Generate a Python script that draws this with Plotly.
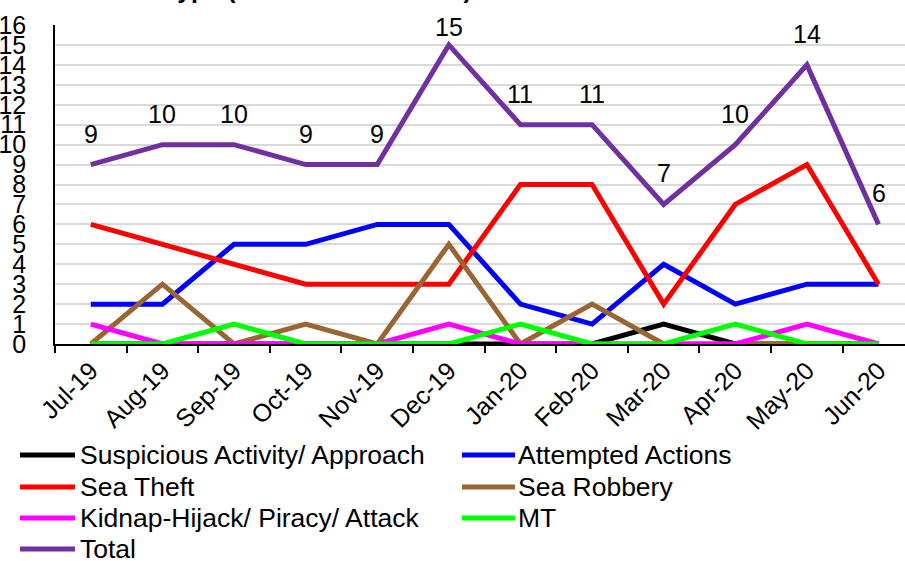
import plotly.graph_objects as go

months = ["Jul-19", "Aug-19", "Sep-19", "Oct-19", "Nov-19", "Dec-19",
          "Jan-20", "Feb-20", "Mar-20", "Apr-20", "May-20", "Jun-20"]
suspicious = [0, 0, 0, 0, 0, 0, 0, 0, 1, 0, 0, 0]
attempted = [2, 2, 5, 5, 6, 6, 2, 1, 4, 2, 3, 3]
sea_theft = [6, 5, 4, 3, 3, 3, 8, 8, 2, 7, 9, 3]
sea_robbery = [0, 3, 0, 1, 0, 5, 0, 2, 0, 0, 0, 0]
kidnap = [1, 0, 0, 0, 0, 1, 0, 0, 0, 0, 1, 0]
mt = [0, 0, 1, 0, 0, 0, 1, 0, 0, 1, 0, 0]
total = [9, 10, 10, 9, 9, 15, 11, 11, 7, 10, 14, 6]
y_ticks = list(range(0, 17))
title_text = "Incident Type (Jul 2019 - Jun 2020)"

FONT = "Liberation Sans, Arial, sans-serif"
FS = 25
LFS = 26.5

series = [
    ("Suspicious Activity/ Approach", suspicious, "#000000"),
    ("Attempted Actions", attempted, "#0000FF"),
    ("Sea Theft", sea_theft, "#FF0000"),
    ("Sea Robbery", sea_robbery, "#996633"),
    ("Kidnap-Hijack/ Piracy/ Attack", kidnap, "#FF00FF"),
    ("MT", mt, "#00FF00"),
    ("Total", total, "#7030A0"),
]

W, H = 905, 561
L, R, T, B = 55, 0, 25, 217
PW, PH = W - L - R, H - T - B


def px_x(fx):
    return (fx - L) / PW


def px_y(fy):
    return (H - B - fy) / PH


fig = go.Figure()
for name, vals, col in series:
    fig.add_trace(go.Scatter(x=months, y=vals, name=name, mode="lines",
                             line=dict(color=col, width=5), showlegend=False,
                             hoverinfo="skip"))

# data labels for Total
for m, v in zip(months, total):
    point_px = T + (16 - v) * PH / 16
    center = max(point_px - 30, 28)
    shift = point_px - center - 15
    fig.add_annotation(x=m, y=v, text=str(v), showarrow=False,
                       yanchor="bottom", yshift=shift,
                       font=dict(family=FONT, size=FS, color="black"))

# title (mostly above the visible page, as in the reference)
fig.add_annotation(xref="paper", yref="paper", x=px_x(59), y=px_y(5),
                   xanchor="left", yanchor="bottom", showarrow=False,
                   text="<b>" + title_text + "</b>",
                   font=dict(family=FONT, size=FS, color="black"))

# legend, two columns
rows = [455, 487, 518, 549]
cols = [(20, 75, 78), (462, 515, 516)]
for i, (name, vals, col) in enumerate(series):
    r, c = divmod(i, 2)
    x0, x1, tx = cols[c]
    fy = rows[r]
    fig.add_shape(type="line", xref="paper", yref="paper",
                  x0=px_x(x0), x1=px_x(x1), y0=px_y(fy), y1=px_y(fy),
                  line=dict(color=col, width=5))
    fig.add_annotation(xref="paper", yref="paper", x=px_x(tx), y=px_y(fy),
                       xanchor="left", yanchor="middle", showarrow=False,
                       text=name, font=dict(family=FONT, size=LFS, color="black"))

fig.update_layout(
    width=W, height=H,
    margin=dict(l=L, r=R, t=T, b=B, autoexpand=False),
    plot_bgcolor="white", paper_bgcolor="white",
    font=dict(family=FONT, size=FS, color="black"),
    showlegend=False,
)
fig.update_xaxes(type="category", range=[-0.5, 11.37], showgrid=False,
                 showline=True, linecolor="black", linewidth=2,
                 ticks="outside", tickson="boundaries", ticklen=7,
                 tickcolor="black", tickwidth=1.5, tickangle=-45,
                 tickfont=dict(family=FONT, size=FS, color="black"))
fig.update_yaxes(range=[0, 16], tickvals=y_ticks, showgrid=True,
                 gridcolor="#d9d9d9", gridwidth=2, showline=True,
                 linecolor="black", linewidth=1.5, zeroline=False,
                 ticks="", ticklabelstandoff=22,
                 tickfont=dict(family=FONT, size=FS, color="black"))

fig.write_html("out.html", config={"displayModeBar": False},
               post_script="document.body.style.margin='0';document.body.style.overflow='hidden';")
